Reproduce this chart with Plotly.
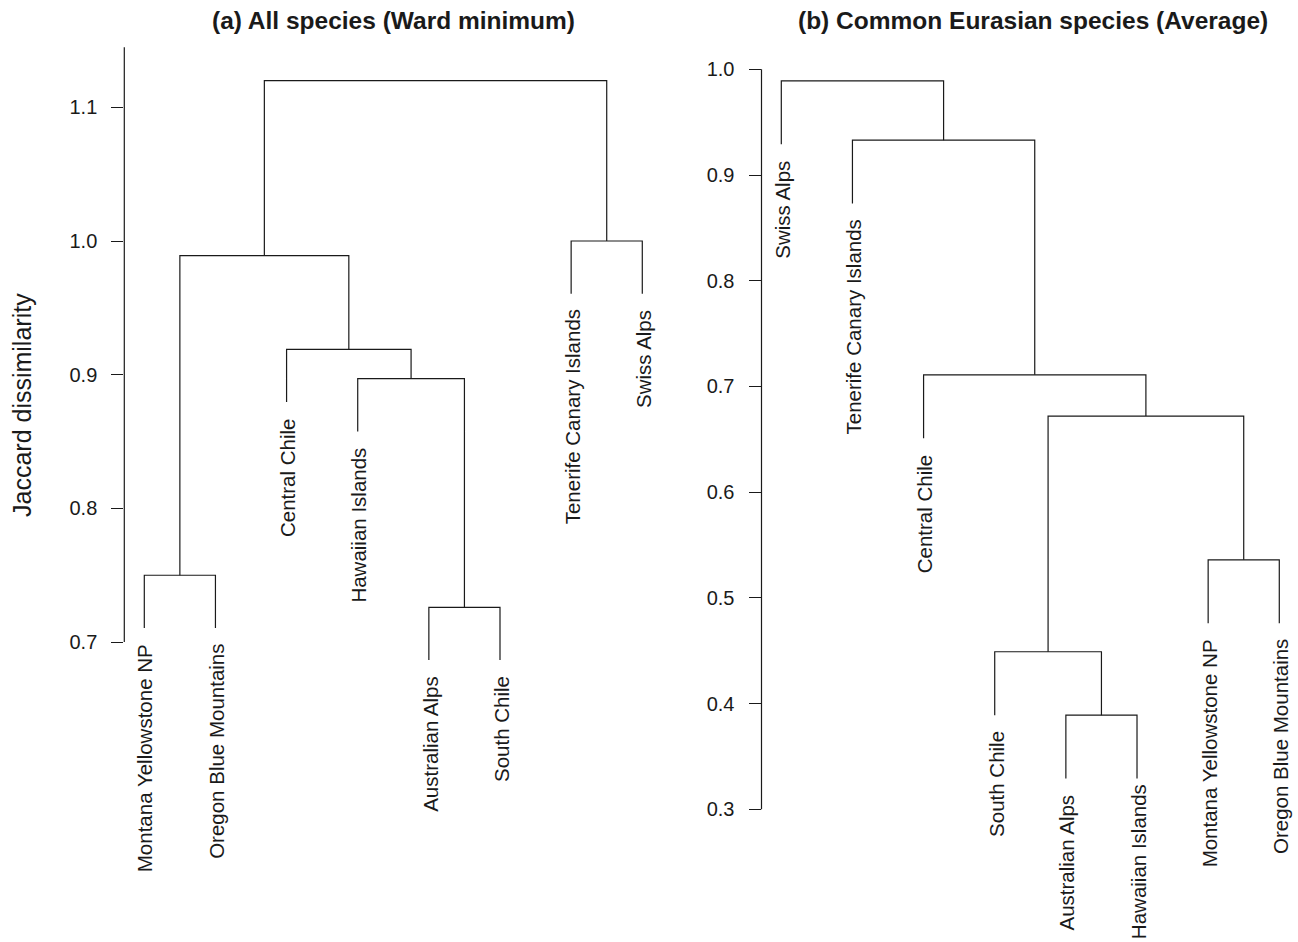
import plotly.graph_objects as go

W, H = 1298, 942
FONT = "Liberation Sans, Arial, Helvetica, sans-serif"

# ---------------- data: panel (a) ----------------
a_title = "(a) All species (Ward minimum)"
a_labels = ["Montana Yellowstone NP", "Oregon Blue Mountains", "Central Chile",
            "Hawaiian Islands", "Australian Alps", "South Chile",
            "Tenerife Canary Islands", "Swiss Alps"]
# merge steps (negative = leaf position in display order, positive = earlier merge step)
a_merge_left = [-5, -1, -4, -3, 2, -7, 5]
a_merge_right = [-6, -2, 1, 3, 4, -8, 6]
a_heights = [0.726, 0.750, 0.897, 0.919, 0.989, 1.000, 1.120]
a_ticks = [0.7, 0.8, 0.9, 1.0, 1.1]
a_axis_span = [0.7, 1.145]

# ---------------- data: panel (b) ----------------
b_title = "(b) Common Eurasian species (Average)"
b_labels = ["Swiss Alps", "Tenerife Canary Islands", "Central Chile", "South Chile",
            "Australian Alps", "Hawaiian Islands", "Montana Yellowstone NP",
            "Oregon Blue Mountains"]
b_merge_left = [-5, -4, -7, 2, -3, -2, -1]
b_merge_right = [-6, 1, -8, 3, 4, 5, 6]
b_heights = [0.389, 0.449, 0.536, 0.672, 0.711, 0.933, 0.989]
b_ticks = [0.3, 0.4, 0.5, 0.6, 0.7, 0.8, 0.9, 1.0]
b_axis_span = [0.3, 1.0]

y_title = "Jaccard dissimilarity"
HANG = 0.1

# label offsets (styling): default gap below leaf end, one label raised to stay on the page
LABEL_GAP = -14
b_label_gap_override = {6: -4}


def dendrogram(mleft, mright, heights):
    hang = HANG * (max(heights) - min(heights))
    cx, xs, ys, leaf_ends = {}, [], [], {}

    def child_info(c, h_parent):
        if c < 0:
            end = h_parent - hang
            leaf_ends[-c] = end
            return float(-c), end
        return cx[c], heights[c - 1]

    for j, (l, r) in enumerate(zip(mleft, mright), start=1):
        h = heights[j - 1]
        xl, hl = child_info(l, h)
        xr, hr = child_info(r, h)
        xs += [xl, xl, xr, xr, None]
        ys += [hl, h, h, hr, None]
        cx[j] = (xl + xr) / 2
    return xs, ys, leaf_ends


fig = go.Figure()

panels = [
    dict(labels=a_labels, ml=a_merge_left, mr=a_merge_right, h=a_heights, ticks=a_ticks,
         span=a_axis_span, title=a_title, xa="x", ya="y", gaps={},
         xdom=[124.3 / W, 660 / W], xr=[0.7189, 8.249], yr=[0.47569, 1.18025], tx=393),
    dict(labels=b_labels, ml=b_merge_left, mr=b_merge_right, h=b_heights, ticks=b_ticks,
         span=b_axis_span, title=b_title, xa="x2", ya="y2", gaps=b_label_gap_override,
         xdom=[761.5 / W, 1.0], xr=[0.7217, 8.263], yr=[0.17444, 1.06556], tx=1033),
]

annotations, shapes = [], []
layout_axes = {}
for i, p in enumerate(panels):
    xs, ys, leaf_ends = dendrogram(p["ml"], p["mr"], p["h"])
    fig.add_trace(go.Scatter(x=xs, y=ys, mode="lines", xaxis=p["xa"], yaxis=p["ya"],
                             line=dict(color="#1a1a1a", width=1.2), hoverinfo="skip",
                             showlegend=False))
    for k, lab in enumerate(p["labels"], start=1):
        annotations.append(dict(x=k, y=leaf_ends[k], xref=p["xa"], yref=p["ya"], text=lab,
                                textangle=-90, xanchor="center", yanchor="top",
                                yshift=p["gaps"].get(k, LABEL_GAP), xshift=1,
                                showarrow=False,
                                font=dict(family=FONT, size=20.5, color="#1a1a1a")))
    annotations.append(dict(x=p["tx"] / W, y=1 - 21 / H, xref="paper", yref="paper",
                            text="<b>" + p["title"] + "</b>", showarrow=False,
                            xanchor="center", yanchor="middle",
                            font=dict(family=FONT, size=24.5, color="#1a1a1a")))
    shapes.append(dict(type="line", xref=p["xa"] + " domain", yref=p["ya"], x0=0, x1=0,
                       y0=p["span"][0], y1=p["span"][1],
                       line=dict(color="#1a1a1a", width=1.2)))
    suffix = "" if i == 0 else "2"
    layout_axes["xaxis" + suffix] = dict(domain=p["xdom"], range=p["xr"], visible=False,
                                         anchor=p["ya"])
    layout_axes["yaxis" + suffix] = dict(domain=[0, 1], range=p["yr"], anchor=p["xa"],
                                         tickvals=p["ticks"],
                                         ticktext=[f"{t:.1f}" for t in p["ticks"]],
                                         ticks="outside", ticklen=12, tickwidth=1.2,
                                         tickcolor="#1a1a1a", showgrid=False, zeroline=False,
                                         showline=False, ticklabelstandoff=10,
                                         tickfont=dict(family=FONT, size=20, color="#1a1a1a"))

annotations.append(dict(x=22 / W, y=1 - 405 / H, xref="paper", yref="paper", text=y_title,
                        textangle=-90, showarrow=False, xanchor="center", yanchor="middle",
                        font=dict(family=FONT, size=25, color="#1a1a1a")))

fig.update_layout(width=W, height=H, margin=dict(l=0, r=0, t=0, b=0),
                  paper_bgcolor="white", plot_bgcolor="white",
                  annotations=annotations, shapes=shapes, **layout_axes)

fig.write_html("out.html", config={"displayModeBar": False},
               post_script="document.body.style.margin='0';"
                           "document.body.style.overflow='hidden';")
